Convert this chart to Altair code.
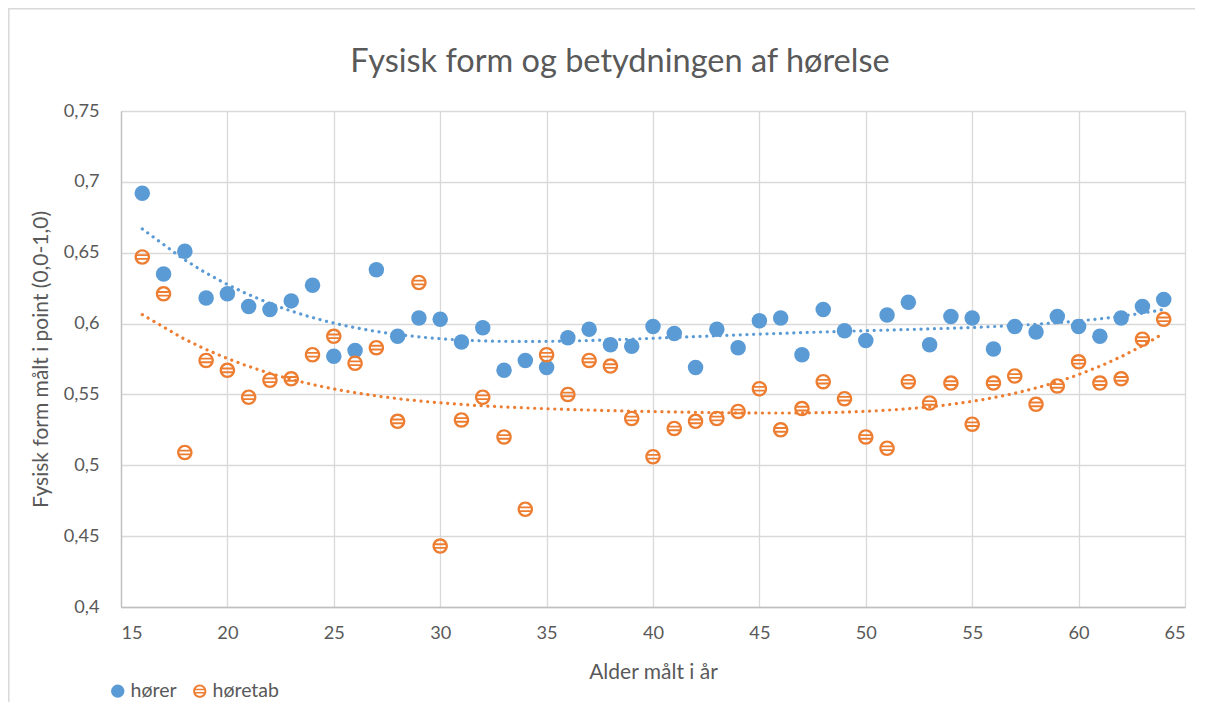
import altair as alt
import pandas as pd

alder = list(range(16, 65))
horer = [0.692, 0.635, 0.651, 0.618, 0.621, 0.612, 0.610, 0.616, 0.627, 0.577,
         0.581, 0.638, 0.591, 0.604, 0.603, 0.587, 0.597, 0.567, 0.574, 0.569,
         0.590, 0.596, 0.585, 0.584, 0.598, 0.593, 0.569, 0.596, 0.583, 0.602,
         0.604, 0.578, 0.610, 0.595, 0.588, 0.606, 0.615, 0.585, 0.605, 0.604,
         0.582, 0.598, 0.594, 0.605, 0.598, 0.591, 0.604, 0.612, 0.617]
horetab = [0.647, 0.621, 0.509, 0.574, 0.567, 0.548, 0.560, 0.561, 0.578, 0.591,
           0.572, 0.583, 0.531, 0.629, 0.443, 0.532, 0.548, 0.520, 0.469, 0.578,
           0.550, 0.574, 0.570, 0.533, 0.506, 0.526, 0.531, 0.533, 0.538, 0.554,
           0.525, 0.540, 0.559, 0.547, 0.520, 0.512, 0.559, 0.544, 0.558, 0.529,
           0.558, 0.563, 0.543, 0.556, 0.573, 0.558, 0.561, 0.589, 0.603]
serier = ["hører", "høretab"]
farver = ["#5B9BD5", "#ED7D31"]
x_ticks = [15, 20, 25, 30, 35, 40, 45, 50, 55, 60, 65]
y_ticks = [0.4, 0.45, 0.5, 0.55, 0.6, 0.65, 0.7, 0.75]
titel = "Fysisk form og betydningen af hørelse"

rows = []
for a, h, t in zip(alder, horer, horetab):
    rows.append({"Alder": a, "serie": serier[0], "value": h})
    rows.append({"Alder": a, "serie": serier[1], "value": t})
df = pd.DataFrame(rows)

# circle with horizontal stripes (ring + two bars), nonzero winding
STRIPED = ("M1,0A1,1,0,1,1,-1,0A1,1,0,1,1,1,0Z"
           "M0.7,0A0.7,0.7,0,1,0,-0.7,0A0.7,0.7,0,1,0,0.7,0Z"
           "M-0.8,-0.36H0.8V-0.12H-0.8Z"
           "M-0.8,0.12H0.8V0.36H-0.8Z")

TXT = "#595959"
FONT = "Lato"

x_enc = alt.X("Alder:Q", scale=alt.Scale(domain=[15, 65], nice=False, zero=False),
              axis=alt.Axis(values=x_ticks, title="Alder målt i år", labelPadding=17,
                            titlePadding=20))
y_enc = alt.Y("value:Q", scale=alt.Scale(domain=[0.4, 0.75], nice=False, zero=False),
              axis=alt.Axis(values=y_ticks, title="Fysisk form målt i point (0,0-1,0)",
                            labelExpr="replace(format(datum.value, '.2~f'), '.', ',')",
                            labelPadding=22, titlePadding=12))

points = alt.Chart(df).mark_point(filled=True, opacity=1, size=240, strokeWidth=0).encode(
    x=x_enc,
    y=y_enc,
    color=alt.Color("serie:N", scale=alt.Scale(domain=serier, range=farver),
                    legend=alt.Legend(title=None)),
    shape=alt.Shape("serie:N", scale=alt.Scale(domain=serier, range=["circle", STRIPED]),
                    legend=alt.Legend(title=None)),
)

trends = []
for navn, farve in zip(serier, farver):
    trends.append(
        alt.Chart(df).transform_filter(alt.datum.serie == navn).transform_regression(
            "Alder", "value", method="poly", order=4, extent=[16, 64]
        ).mark_line(strokeDash=[0.1, 6.6], strokeCap="round", strokeWidth=3.2,
                    color=farve).encode(x=alt.X("Alder:Q"), y=alt.Y("value:Q"))
    )

frame_df = pd.DataFrame({"k": [0]})
title_mark = alt.Chart(frame_df).mark_text(
    font=FONT, fontSize=32.5, color=TXT, align="center", baseline="middle"
).encode(x=alt.value(499), y=alt.value(-49), text=alt.value(titel))

left_border = alt.Chart(frame_df).mark_rule(color="#D9D9D9", strokeWidth=1.5).encode(
    x=alt.value(-112.2), y=alt.value(-103), y2=alt.value(600))
top_border = alt.Chart(frame_df).mark_rule(color="#D9D9D9", strokeWidth=1.5).encode(
    y=alt.value(-102.2), x=alt.value(-113), x2=alt.value(1100))

chart = alt.layer(*trends, points, title_mark, left_border, top_border).properties(
    width=1064,
    height=496,
    autosize=alt.AutoSizeParams(type="none"),
    padding={"left": 113, "top": 103, "right": 10, "bottom": 95},
).configure_view(stroke=None).configure_axis(
    labelFont=FONT, titleFont=FONT, labelFontSize=18.2, titleFontSize=21,
    labelColor=TXT, titleColor=TXT, titleFontWeight="normal",
    gridColor="#D9D9D9", gridWidth=1.3, domainColor="#BFBFBF", domainWidth=1.3,
    ticks=False,
).configure_axisX(grid=True).configure_axisY(grid=True).configure_legend(
    orient="none", legendX=-13, legendY=570, direction="horizontal",
    labelFont=FONT, labelFontSize=19.5, labelColor=TXT, symbolSize=175,
    symbolStrokeWidth=0, labelOffset=3, columnPadding=13,
)

chart.save("out.html", embed_options={"renderer": "svg", "actions": False})
